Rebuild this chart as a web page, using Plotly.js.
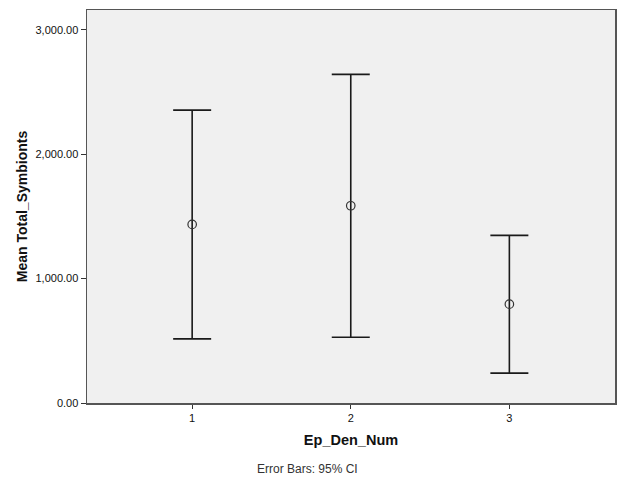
<!DOCTYPE html>
<html>
<head>
<meta charset="utf-8">
<script src="https://cdn.plot.ly/plotly-3.0.1.min.js"></script>
<style>html,body{margin:0;padding:0;background:#fff;}#chart{width:623px;height:489px;}</style>
</head>
<body>
<div id="chart"></div>
<script>
var categories = [1, 2, 3];
var meanValues = [1436, 1586, 795];
var upperCI = [2355, 2642, 1348];
var lowerCI = [516, 529, 240];
var yTickValues = [0, 1000, 2000, 3000];

var errPlus = meanValues.map(function (m, i) { return upperCI[i] - m; });
var errMinus = meanValues.map(function (m, i) { return m - lowerCI[i]; });

var trace = {
  x: categories,
  y: meanValues,
  type: 'scatter',
  mode: 'markers',
  marker: { symbol: 'circle-open', size: 8.5, color: '#333333', line: { width: 1.2, color: '#333333' } },
  error_y: {
    type: 'data', symmetric: false,
    array: errPlus, arrayminus: errMinus,
    width: 19, thickness: 1.6, color: '#1a1a1a'
  },
  hoverinfo: 'none'
};

var fontFam = 'Liberation Sans, Arial, sans-serif';
var layout = {
  width: 623, height: 489,
  margin: { l: 87, r: 8, t: 10, b: 86 },
  paper_bgcolor: '#ffffff',
  plot_bgcolor: '#f0f0f0',
  showlegend: false,
  font: { family: fontFam, size: 11, color: '#222222' },
  xaxis: {
    range: [0.337, 3.666],
    tickvals: categories,
    ticktext: categories.map(String),
    ticks: 'outside', ticklen: 4, tickwidth: 1, tickcolor: '#333',
    showgrid: false, zeroline: false,
    showline: true, mirror: true, linecolor: '#555555', linewidth: 1.5,
    tickfont: { family: fontFam, size: 11, color: '#111111' },
    title: { text: '<b>Ep_Den_Num</b>', font: { family: fontFam, size: 14.5, color: '#111' }, standoff: 12 }
  },
  yaxis: {
    range: [0, 3160],
    tickvals: yTickValues,
    tickformat: ',.2f',
    ticks: 'outside', ticklen: 5, tickwidth: 1, tickcolor: '#333',
    showgrid: false, zeroline: false,
    showline: true, mirror: true, linecolor: '#555555', linewidth: 1.5,
    tickfont: { family: fontFam, size: 11, color: '#111111' },
    title: { text: '<b>Mean Total_Symbionts</b>', font: { family: fontFam, size: 14, color: '#111' }, standoff: 4 }
  },
  annotations: [{
    text: 'Error Bars: 95% CI',
    xref: 'paper', yref: 'paper',
    x: 0.318, y: -0.168, xanchor: 'left', yanchor: 'middle',
    showarrow: false,
    font: { family: fontFam, size: 12, color: '#333' }
  }]
};

Plotly.newPlot('chart', [trace], layout, { displayModeBar: false, staticPlot: true });
</script>
</body>
</html>
